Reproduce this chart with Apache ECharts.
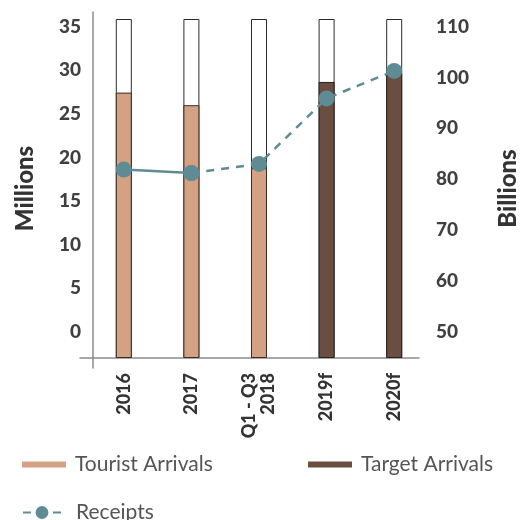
<!DOCTYPE html>
<html>
<head>
<meta charset="utf-8">
<script src="https://cdn.jsdelivr.net/npm/echarts@6/dist/echarts.min.js"></script>
<style>
html,body{margin:0;padding:0;background:#fff;}
#chart{width:528px;height:520px;}
</style>
</head>
<body>
<div id="chart"></div>
<script>
const categories = ['2016', '2017', 'Q1 - Q3\n2018', '2019f', '2020f'];
const touristArrivals = [27.4, 26.1, 19.6, null, null];
const targetArrivals = [null, null, null, 28.5, 29.5];
const capacity = [35, 35, 35, 35, 35];
const receipts = [81.9, 81.2, 83.0, 95.9, 101.3];
const leftTicks = [0, 5, 10, 15, 20, 25, 30, 35];
const rightTicks = [50, 60, 70, 80, 90, 100, 110];

const receiptsActual = receipts.map((v, i) => (i <= 1 ? v : null));
const receiptsForecast = receipts.map((v, i) => (i >= 1 ? v : null));

const FONT = 'Lato, "Open Sans", sans-serif';
const TEAL = '#5f8b94';
const TAN = '#d4a282';
const BROWN = '#6a4f40';

const chart = echarts.init(document.getElementById('chart'), null, {renderer: 'canvas'});

chart.setOption({
  animation: false,
  backgroundColor: '#fff',
  grid: [
    {left: 90, width: 338, top: 19, height: 339},
    {left: 90, width: 338, top: 26.7, height: 305},
    {left: 80, width: 339, top: 12, height: 356}
  ],
  xAxis: [
    {
      type: 'category', gridIndex: 0, data: categories,
      axisLine: {show: false}, axisTick: {show: false},
      axisLabel: {
        rotate: 90, margin: 15, color: '#333', fontFamily: FONT,
        fontWeight: 900, fontSize: 18, lineHeight: 19, align: 'right', verticalAlign: 'middle'
      }
    },
    {
      type: 'category', gridIndex: 1, data: categories,
      axisLine: {show: false}, axisTick: {show: false}, axisLabel: {show: false}
    },
    {
      type: 'value', gridIndex: 2, min: -13, max: 326,
      splitLine: {show: false}, axisTick: {show: false}, axisLabel: {show: false},
      axisLine: {show: true, onZero: true, lineStyle: {color: '#8c8c8c', width: 1.5}}
    }
  ],
  yAxis: [
    {
      type: 'value', gridIndex: 0, min: 0, max: 35, position: 'left',
      splitLine: {show: false}, axisLine: {show: false}, axisTick: {show: false}, axisLabel: {show: false},
      name: 'Millions', nameLocation: 'middle', nameGap: 53,
      nameTextStyle: {color: '#333', fontFamily: FONT, fontWeight: 900, fontSize: 24}
    },
    {
      type: 'value', gridIndex: 0, min: 0, max: 35, position: 'right',
      splitLine: {show: false}, axisLine: {show: false}, axisTick: {show: false}, axisLabel: {show: false},
      name: 'Billions', nameLocation: 'middle', nameGap: 68, nameRotate: 90,
      nameTextStyle: {color: '#333', fontFamily: FONT, fontWeight: 900, fontSize: 24}
    },
    {
      type: 'value', gridIndex: 1, min: 0, max: 35, interval: 5, position: 'left',
      splitLine: {show: false}, axisLine: {show: false}, axisTick: {show: false},
      axisLabel: {
        margin: 9, color: '#404040', fontFamily: FONT, fontWeight: 900, fontSize: 19,
        customValues: leftTicks
      }
    },
    {
      type: 'value', gridIndex: 1, min: 50, max: 110, interval: 10, position: 'right',
      splitLine: {show: false}, axisLine: {show: false}, axisTick: {show: false},
      axisLabel: {
        margin: 8, color: '#404040', fontFamily: FONT, fontWeight: 900, fontSize: 19,
        customValues: rightTicks
      }
    },
    {
      type: 'value', gridIndex: 2, min: -10, max: 346,
      splitLine: {show: false}, axisTick: {show: false}, axisLabel: {show: false},
      axisLine: {show: true, onZero: true, lineStyle: {color: '#8c8c8c', width: 1.5}}
    }
  ],
  legend: [
    {
      left: 17, top: 449, data: [{name: 'Tourist Arrivals', icon: 'rect', itemStyle: {borderWidth: 0}}],
      itemWidth: 44, itemHeight: 6, itemGap: 0,
      textStyle: {color: '#555', fontFamily: FONT, fontSize: 21, padding: [0, 0, 0, 4]}
    },
    {
      left: 303, top: 449, data: [{name: 'Target Arrivals', icon: 'rect', itemStyle: {borderWidth: 0}}],
      itemWidth: 44, itemHeight: 6, itemGap: 0,
      textStyle: {color: '#555', fontFamily: FONT, fontSize: 21, padding: [0, 0, 0, 4]}
    },
    {
      left: 17, top: 497, data: ['Receipts'],
      itemWidth: 38, itemHeight: 16, itemGap: 0,
      textStyle: {color: '#555', fontFamily: FONT, fontSize: 21, padding: [0, 0, 0, 10]}
    }
  ],
  series: [
    {
      name: 'capacity', type: 'bar', xAxisIndex: 0, yAxisIndex: 0, data: capacity,
      barWidth: 16, barGap: '-100%', silent: true,
      itemStyle: {color: '#fff', borderColor: '#2b2b2b', borderWidth: 1}
    },
    {
      name: 'Tourist Arrivals', type: 'bar', xAxisIndex: 0, yAxisIndex: 0, data: touristArrivals,
      barWidth: 16, barGap: '-100%',
      itemStyle: {color: TAN, borderColor: '#3b2e27', borderWidth: 1}
    },
    {
      name: 'Target Arrivals', type: 'bar', xAxisIndex: 0, yAxisIndex: 0, data: targetArrivals,
      barWidth: 16, barGap: '-100%',
      itemStyle: {color: BROWN, borderColor: '#2a201b', borderWidth: 1}
    },
    {
      name: 'Receipts actual', type: 'line', xAxisIndex: 1, yAxisIndex: 3, data: receiptsActual,
      symbol: 'circle', symbolSize: 16, z: 5,
      lineStyle: {color: TEAL, width: 2.5}, itemStyle: {color: TEAL}
    },
    {
      name: 'Receipts', type: 'line', xAxisIndex: 1, yAxisIndex: 3, data: receiptsForecast,
      symbol: 'circle', symbolSize: 16, z: 5,
      lineStyle: {color: TEAL, width: 2.5, type: [8, 7]}, itemStyle: {color: TEAL}
    }
  ]
});
</script>
</body>
</html>
